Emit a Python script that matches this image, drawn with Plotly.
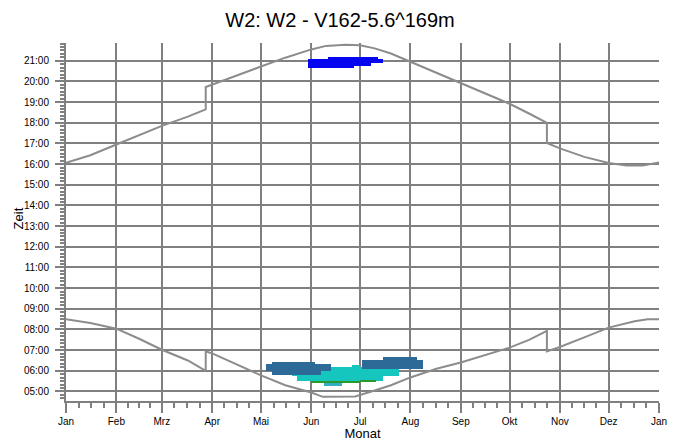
import plotly.graph_objects as go

# day of year (0 = 1 Jan) and time of day in decimal hours
MONTH_DAYS = [0, 31, 59, 90, 120, 151, 181, 212, 243, 273, 304, 334, 365]
MONTH_LABELS = ['Jan', 'Feb', 'Mrz', 'Apr', 'Mai', 'Jun', 'Jul', 'Aug',
                'Sep', 'Okt', 'Nov', 'Dez', 'Jan']
HOUR_TICKS = list(range(5, 22))

# sunset curve (upper)
SUNSET_DAY = [0, 15, 31, 45, 59, 75, 86, 86, 90, 105, 120, 135, 151, 160, 172,
              181, 190, 200, 212, 228, 243, 258, 273, 285, 296, 296, 304, 319,
              334, 345, 355, 365]
SUNSET_TIME = [16.07, 16.43, 16.95, 17.4, 17.85, 18.3, 18.65, 19.73, 19.85,
               20.3, 20.72, 21.15, 21.55, 21.72, 21.78, 21.75, 21.6, 21.35,
               20.95, 20.45, 19.93, 19.45, 18.92, 18.45, 18.0, 17.02, 16.76,
               16.35, 16.05, 15.93, 15.93, 16.08]

# sunrise curve (lower)
SUNRISE_DAY = [0, 15, 31, 45, 59, 75, 86, 86, 90, 105, 120, 135, 151, 158, 172,
               178, 190, 200, 212, 228, 243, 258, 273, 285, 296, 296, 304, 319,
               334, 350, 358, 365]
SUNRISE_TIME = [8.49, 8.31, 8.04, 7.55, 7.02, 6.5, 6.0, 6.94, 6.84, 6.3, 5.78,
                5.3, 4.95, 4.74, 4.73, 4.76, 5.05, 5.3, 5.68, 6.1, 6.4, 6.75,
                7.12, 7.5, 7.93, 6.94, 7.15, 7.62, 8.09, 8.4, 8.49, 8.49]

# shadow periods: first day, last day, start time, end time
CYAN_D0 = [176, 139, 142]
CYAN_D1 = [181, 205, 195]
CYAN_T0 = [6.15, 5.74, 5.50]
CYAN_T1 = [6.26, 6.17, 5.74]

LIGHT_D0 = [159]
LIGHT_D1 = [170]
LIGHT_T0 = [5.29]
LIGHT_T1 = [5.50]

GREEN_D0 = [151, 181]
GREEN_D1 = [181, 191]
GREEN_T0 = [5.42, 5.48]
GREEN_T1 = [5.53, 5.56]

STEEL_D0 = [127, 123, 127, 195, 182]
STEEL_D1 = [153, 163, 157, 216, 220]
STEEL_T0 = [6.34, 5.98, 5.80, 6.53, 6.10]
STEEL_T1 = [6.45, 6.34, 5.98, 6.66, 6.53]

BLUE_D0 = [161, 149, 149, 149]
BLUE_D1 = [192, 195, 188, 177]
BLUE_T0 = [21.08, 20.89, 20.74, 20.63]
BLUE_T1 = [21.19, 21.08, 20.89, 20.74]

GRID = 'rgb(128, 128, 128)'
CURVE = 'rgb(140, 140, 140)'
FONT = 'Liberation Sans, Arial, sans-serif'


def blocks(d0, d1, t0, t1, colour):
    """Rectangles of shadow time as floating bars."""
    return go.Bar(x=[(a + b) / 2 for a, b in zip(d0, d1)],
                  width=[b - a for a, b in zip(d0, d1)],
                  base=t0,
                  y=[b - a for a, b in zip(t0, t1)],
                  marker=dict(color=colour, line=dict(width=0)),
                  hoverinfo='skip')


quarters = []
for i in range(12):
    step = (MONTH_DAYS[i + 1] - MONTH_DAYS[i]) / 4
    quarters += [MONTH_DAYS[i] + step * k for k in (1, 2, 3)]

fig = go.Figure()
fig.add_trace(blocks(CYAN_D0, CYAN_D1, CYAN_T0, CYAN_T1, 'rgb(20, 198, 190)'))
fig.add_trace(blocks(LIGHT_D0, LIGHT_D1, LIGHT_T0, LIGHT_T1, 'rgb(50, 172, 200)'))
fig.add_trace(blocks(GREEN_D0, GREEN_D1, GREEN_T0, GREEN_T1, 'rgb(42, 154, 42)'))
fig.add_trace(blocks(STEEL_D0, STEEL_D1, STEEL_T0, STEEL_T1, 'rgb(45, 106, 152)'))
fig.add_trace(blocks(BLUE_D0, BLUE_D1, BLUE_T0, BLUE_T1, 'rgb(5, 5, 240)'))

for days, times in ((SUNSET_DAY, SUNSET_TIME), (SUNRISE_DAY, SUNRISE_TIME)):
    fig.add_trace(go.Scatter(x=days, y=times, mode='lines',
                             line=dict(color=CURVE, width=2),
                             hoverinfo='skip'))

fig.update_layout(
    width=680, height=441,
    margin=dict(l=66, r=21, t=43, b=40),
    paper_bgcolor='white', plot_bgcolor='white',
    barmode='overlay', bargap=0, showlegend=False,
    font=dict(family=FONT, color='black', size=10),
    title=dict(text='W2: W2 - V162-5.6^169m', x=0.5, xanchor='center',
               y=0.955, yanchor='middle', font=dict(size=20)),
)
fig.update_xaxes(range=[0, 365], tickmode='array', tickvals=MONTH_DAYS,
                 ticktext=MONTH_LABELS, ticks='outside', ticklen=10,
                 tickcolor=GRID, tickwidth=2, automargin=False,
                 showgrid=True, gridcolor=GRID, gridwidth=2,
                 showline=True, linecolor=GRID, linewidth=2, zeroline=False,
                 minor=dict(tickmode='array', tickvals=quarters, ticks='outside',
                            ticklen=5, tickcolor=GRID, tickwidth=2, showgrid=False),
                 title=dict(text='Monat', font=dict(size=13), standoff=2))
fig.update_yaxes(range=[4.54, 21.86], tickmode='array', tickvals=HOUR_TICKS,
                 ticktext=['%02d:00' % h for h in HOUR_TICKS],
                 ticks='outside', ticklen=9, tickcolor=GRID, tickwidth=2,
                 ticklabelstandoff=4, automargin=False,
                 showgrid=True, gridcolor=GRID, gridwidth=2,
                 showline=True, linecolor=GRID, linewidth=2, zeroline=False,
                 minor=dict(dtick=1 / 6, tick0=0, ticks='outside', ticklen=4,
                            tickcolor=GRID, tickwidth=1.5, showgrid=False))

# y title placed by hand, closer to the tick labels than plotly would put it
fig.add_annotation(text='Zeit', textangle=-90, xref='paper', yref='paper',
                   x=-0.081, y=0.51, xanchor='center', yanchor='middle',
                   showarrow=False, font=dict(size=13))

# the page's default body margin would shift the whole chart by 8px
fig.write_html('out.html', config={'displayModeBar': False},
               post_script="document.body.style.margin = '0';")
